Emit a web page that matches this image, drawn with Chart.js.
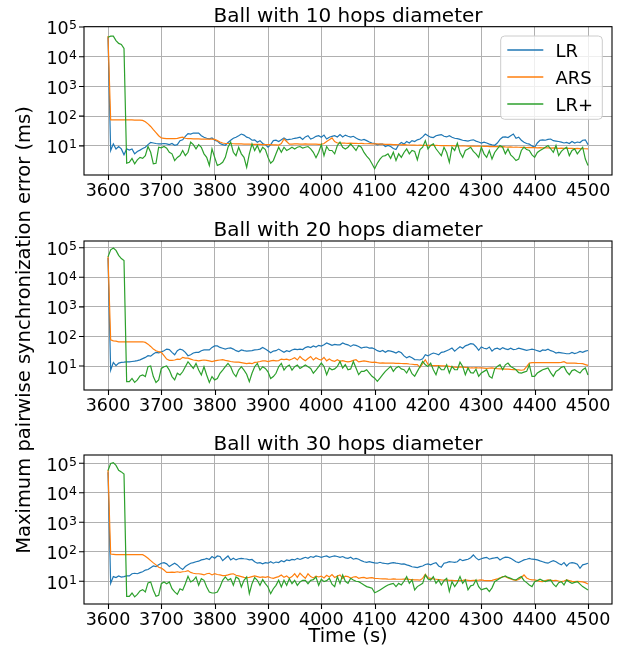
<!DOCTYPE html>
<html><head><meta charset="utf-8">
<script src="https://cdn.jsdelivr.net/npm/chart.js@4"></script>
<style>
html,body{margin:0;padding:0;background:#fff;}
#wrap{position:relative;width:627px;height:652px;overflow:hidden;}
canvas{position:absolute;left:0;top:0;}
</style></head><body>
<div id="wrap">
<canvas id="c1" width="627" height="652"></canvas>
<canvas id="c2" width="627" height="652"></canvas>
<canvas id="c3" width="627" height="652"></canvas>
</div>
<script>
// ---- data ----
const T0 = 3600, DT = 5;           // sampling: 3600 s .. 4500 s every 5 s
const SERIES_NAMES = ['LR', 'ARS', 'LR+'];
const PANEL_TITLES = ['Ball with 10 hops diameter', 'Ball with 20 hops diameter', 'Ball with 30 hops diameter'];
const X_TICKS = [3600, 3700, 3800, 3900, 4000, 4100, 4200, 4300, 4400, 4500];
const Y_TICKS = [1e1, 1e2, 1e3, 1e4, 1e5];
const X_LABEL = 'Time (s)';
const Y_LABEL = 'Maximum pairwise synchronization error (ms)';

const LR_10 = [
45000,7.0,11.7,7.9,9.5,7.9,5.0,7.9,7.2,7.9,5.4,6.5,7.2,8.2,9.0,11,13,12.5,12,11.7,
11.7,12,11.7,11,12,10.5,11,15,16,21,26,25,27,27,27,22,19.6,18,17.2,18.5,
15.5,14.5,12,11,10.5,13,15.5,18,19.6,22,25,23,19.6,18.5,15.5,16,13.3,15,12,11,
9.0,11,15,15.5,14,16,18.5,16,16.5,17,18,18.5,19.6,16.5,20,22,17,18.5,21,22,
19.6,23,17,19.6,21,22,20,24,20,23,21,19.6,21,18.5,16.5,15.5,16.5,15,13.5,12.5,
12,10.8,11.5,11.5,9.5,10.3,9.5,8.2,7.5,11,13,11.5,14,12.5,15,14,16,17,20,25,
22,19.6,19,22,23,24,21,20,22,19.6,18,17.5,16.5,15.5,15,14.5,15.5,16,14.5,13.5,
12.5,13.3,12.5,11.5,10.8,10.5,12.5,16.5,19.6,20,19,22,25,18,19.6,15.5,13.3,12,11.5,10,
9,12.5,15.5,16,15.5,16.5,17,15,14.5,14,13.3,12.5,13,12,14,12.5,13.5,13,15.5,16,
11];
const ARS_10 = [
50000,75,75,75,75,75,75,75,75,75,74,74,74,72,65,55,45,35,28,22,
18.5,18,17.5,17.5,17.5,17.5,18,19,19.6,18,17.5,17.5,17.2,17.2,17.2,17,17,17,17,16.8,
16.5,15,13.5,12.5,12,12,12,11.8,11.7,11.7,11.7,11.5,11.5,11.5,11.3,11.3,11.2,11.2,11,11,
11,11,10.8,10.8,10.6,12,17,14,11.5,11.5,11.7,11.7,11.5,11.5,11.7,11.5,11.5,11.5,11.5,11.3,
11.3,12,14,16,18.5,14,12.5,12.3,12.5,12.3,12.2,12.4,12.1,12.2,12,12.1,11.9,11.8,11.9,11.7,
11.7,11.6,11.5,11.5,11.3,11.2,11.3,11.1,11,10.9,10.8,11,10.8,10.7,10.6,10.6,10.5,10.6,10.4,10.5,
10.4,10.5,10.3,10.4,10.3,10.2,10.3,10.2,10.1,10.2,10,10.1,9.9,10,9.9,9.8,9.9,9.8,9.7,9.8,
9.7,9.6,9.7,9.5,9.6,9.4,9.5,9.3,9.4,9.2,9.1,9.2,9.0,9.1,9.0,8.9,9.0,8.8,8.9,8.7,
8.7,8.6,8.7,8.6,8.5,8.6,8.4,8.5,8.4,8.3,8.4,8.3,8.2,8.3,8.2,8.1,8.2,8.1,8.0,8.0,
7.9];
const LRP_10 = [
45000,49000,49000,35000,28000,26000,19000,2.6,2.8,3.8,2.5,3.4,4.1,3.8,4.7,9.5,6.1,2.5,2.6,9.0,
8.6,9.5,8.4,6.1,5.4,3.2,4.1,4.7,7.0,4.7,6.1,13.3,11,7.9,11,9,5.4,4.1,2.2,7.9,
4.1,2.2,2.4,2.8,4.1,9,13.3,6.1,4.7,9,5.4,4.1,1.9,5.4,11.7,7,10.3,6.1,9,7.5,
4.1,2.6,3.2,5.4,9,6.1,9,7,7.9,9,7.9,9,9.5,8.4,9,9.5,7.9,6.1,4.0,6.1,
11,4.7,9.5,7,7,5.4,10.3,13.3,9,7.9,9,11.7,9,7,10.3,9,6,4.5,3.6,2.5,
1.7,2.6,3.6,4.5,4.7,5.4,3.8,6.1,3.2,5.4,4.1,6,7.9,5.4,7,6.5,3.4,7.5,9,15,
7.9,10.3,11.7,8,6.1,4.7,9,6,2.8,9,7,12.3,6,4.1,7,7.9,9,6.5,5.4,4.1,
9,5.4,4.1,7,3.6,6,7.9,10.3,9,5.4,7.9,5,4.1,3.2,3.6,7,9,7.5,7,5,
4.1,6,7,7.9,9,10.3,8,6.1,10.3,4.7,6.5,7.9,9,4.7,7,7.9,5.4,7,9,3.6,
2.2];

const LR_20 = [
45000,7.3,13.3,10.3,12.6,13.3,13.5,13.8,13.8,14.2,14.6,15.2,16.2,17.8,19.6,22.3,21.5,25.4,29,28,
30,33,37.4,36,29,24,33,37.4,35,29,22.3,24,27.5,29,29,33,35,35,35,42.6,
48,48,42.6,40,37.4,40,41,37.4,33,31,35,33,32,32.5,33,35,35.5,37.4,42.6,37.4,
33,28,32,33,37.4,33,29,33,31,35,37.4,36,37,36,42,45,42,48,44,50,
47,52,60,55,50,54,52,52,60,55,52,46,52,50,46,40.5,43,44,40.5,41,
37.5,33,31,33.5,29,33,32,30,27.5,31,28,22,19,21,19,16.5,16.3,16,17.5,24,
22,25,27.5,26,24,29,30,33,36,40.5,32,38,45,40,48,52,57,55,45,34,
44,40,38,44,32,38,40,36,42,38,36,40,36,37,40,38,36,34,35.5,37,
35.5,33,31,35,34,37,33,31,27.5,29,28,27,26,26,29,26.5,28,31,29,32,
33.5];
const ARS_20 = [
50000,77,71,69,66,66,66,66,66,66,66,66,66,66,63,55,46,37.4,33,30.5,
29,22.3,17.2,15.6,15.6,16,17.2,16.8,19.6,18.5,18.5,17.2,16,15.6,15,15.6,16,15.6,15,14.2,
15,15.6,16,16.4,15.6,15,14.2,13.8,13.5,13.5,13,12.5,12,12.5,12,13.3,13.6,14.2,15,15,
14.2,15,15.6,15,15.3,17.2,16.4,17.2,16,17.2,19,16,21,17.2,15,18,21,16,19,17,
16,19.6,15,17.2,15.2,14.4,16.3,14.4,15.2,14.4,13.8,14.4,15.5,16.3,13.8,14.4,15,14.4,13.8,13.3,
13.5,13,12.6,12.8,12.6,12.6,12.6,12.6,12.3,12.4,12.2,12,12,11.7,11.5,11.1,11.1,9.0,12,16.3,
11.5,10.5,10.3,10.3,10.3,10.2,10.1,10,9.7,9.4,9.2,9,9.4,9.2,9,8.8,8.6,8.6,8.8,8.6,
8.6,8.5,8.4,8.5,8.6,8.3,8.1,8,8,7.9,7.9,7.7,7.6,7.5,7.4,7.2,7.5,9.5,12.6,13,
13,13,13,13,13,13,13,13,13,13,13.3,14,12.6,12.6,12.6,12.6,12.3,12.2,12,11.2,
10.5];
const LRP_20 = [
49000,85000,98000,81000,55000,43000,37000,2.95,2.95,3.8,2.8,3.4,4.6,5,4.4,9.5,10,4.4,2.8,3.4,
8.3,9.5,10,7.3,4.4,3.4,5.7,5,6.4,9.5,14,10.8,8.3,12.3,7.3,5,9.5,5,2.8,4.4,
3.4,3.8,5.7,7.3,9.5,12.3,9.5,5.7,4.4,7.3,9.5,7.3,5.3,2.95,5.7,9.5,12.3,7.3,9.5,8.3,
6.4,3.8,4.4,5.7,9.5,12.3,7.3,9.5,10.8,7.3,9.5,10.8,8.3,9.5,10.8,9.5,8.3,5.7,7.3,9.5,
12.6,9.7,5.1,8.6,7.5,8,9.7,14.3,8.6,11.1,7.5,8,14.3,8.6,5.1,6.6,6.6,7.5,5.8,4.5,
3.9,3.05,3.9,5.1,6.6,8,9.7,6.6,8.6,9.7,8,7.5,5.8,8.6,5.5,4.5,6.6,9.7,14.3,11,
9.7,12.6,7.5,5.1,9.7,7.5,7.5,11.1,5.8,9.7,7.5,7.5,13.5,9.7,5.1,8.6,6,5.8,7.8,4.5,
5.8,6.6,7.5,4.5,3.9,8,9.7,11.1,7.5,11,12.6,9.7,8.6,7.5,6,5.8,6.2,6.6,11.1,4.5,
4.5,5.8,6.6,7.5,8,8.6,6,4.5,6.6,7.5,9,9.7,6.5,5.1,7,7.5,6.5,5.8,7.5,8.6,
5];

const LR_30 = [
50000,8.5,14.4,13.3,15.2,13.8,14.4,15.2,15.2,18,18.7,18,19.6,21,24,25,29,33,31.5,36,
41,43,39,31.5,36,41,36,29,25,31.5,36,41,43,46,48,53,55,60,55,69,
60,72,69,50,60,72,53,60,53,58,60,58,57,53,55,46,41,43,39,43,
41,46,41,45,43,50,46,53,50,55,53,60,55,60,65,60,69,65,72,69,
65,69,72,65,69,72,69,65,69,62,60,65,56,60,56,50,46,44,46,44,
42,41,44,41,40,39,41,43,41,40,38,39,36,34,31,30,29,31.5,33,37,
39,36,40,43,33,30,41,43,46,45,44,46,56,50,53,56,63,78,62,53,
58,62,65,56,60,62,65,53,60,66,65,60,53,46,43,48,53,56,60,56,
55,53,49,46,43,41,46,50,46,40,36,43,33,41,43,41,38,27.6,36,38,
41];
const ARS_30 = [
59000,84,82,80,80,80,80,80,80,80,80,80,80,80,71,60,50,42,36,30,
28,24,20,20,20.5,20,21,20,21,21.5,23,20,18.7,18,18,17.5,16.4,18,18.7,16.4,
18,17,16.4,15.6,15.6,16.4,17.5,18,16,15.2,14.4,13.6,13.2,13.6,14.4,15.2,14.4,13.6,14,13.6,
14.4,13.2,12.6,13.6,14.4,16.4,13.6,15.2,12.6,14.4,18,13.6,18.7,15.2,12.6,18,14.4,13,15,14,
15,13,16,14,17,13.5,15,16.4,12.6,15,14.4,12.6,14,14.4,12.6,13.3,13.5,12.6,13,13.3,
12.6,12.4,12.2,12,12,11.8,11.7,12,11.8,11.7,11.7,11.9,12,11.6,11.4,11.2,11.1,11,12.5,17.3,
13,12.6,12,11.7,11.4,11.1,11,11.1,10.8,10.8,10.6,10.5,10.5,10.7,11.1,10.8,10.5,10.8,10.8,10.9,
11.1,10.8,10.6,10.5,10.8,11.4,12,13,14.4,14.4,13,12,11.1,10.8,11.5,13.5,16.4,13,11.7,11.1,
11.1,10.5,9.9,9.7,10.5,11.1,10.8,10.5,10.8,10.2,9.7,10.2,11.1,10.5,9.9,9.7,9.9,9.7,9.5,9,
8.1];
const LRP_30 = [
57000,98000,105000,85000,58000,51000,43000,3.1,3.1,4.0,2.95,3.6,4.7,5.2,4.35,8.8,9.5,5,3.1,3.35,
8.3,9.5,8.3,9.5,5.6,4.35,3.6,5.6,5,8.3,14.8,9.5,10.8,14,7.3,12.3,10.8,6.4,4.35,4.0,
4.0,4.35,6.4,10.8,14,10.8,12.3,7.3,14,12.3,6.4,10.8,14,3.8,8.3,13.3,10.8,7.3,11.4,8.3,
6.4,3.8,5.6,7.3,10.8,6.4,10.8,7.3,12.3,8.3,10.8,7.3,9.5,10.8,10.8,8.3,10.8,11.4,14,7.3,
11.7,9.7,10.5,12.6,8,6.6,14.4,8.5,16.4,10,8.5,12.6,11.1,10,9.7,8.5,7.5,6.6,6.2,5.8,
4.1,4.5,5.1,5.8,6.6,7.5,8,8.5,6.6,8.5,7.5,10,14.4,8.5,11.1,5.1,6.6,7.5,8.5,16.4,
12,11.1,14.4,8.5,11.1,7.5,10.5,12.6,4.5,9.7,6.6,9,14.4,8.5,11.1,5.1,7,7.5,11.1,6.6,
5.1,5.5,5.8,4.5,6,9.7,11,12.6,14,15.2,13.5,12.6,11.5,11.1,13,14.4,10.5,9,7.5,6.6,
9.7,10.5,11.7,10.5,9.7,10.5,11.1,8,6.6,9,9.7,7.5,11.1,9.5,8.5,9.2,9.7,8,6.6,5.8,
5.1];

const PANEL_DATA = [[LR_10, ARS_10, LRP_10], [LR_20, ARS_20, LRP_20], [LR_30, ARS_30, LRP_30]];

// ---- styling / layout ----
const COLORS = ['#1f77b4', '#ff7f0e', '#2ca02c'];
const FONT = "'DejaVu Sans', 'Liberation Sans', sans-serif";
const W = 627, H = 652;
const PANELS = [
  { top: 26.7, bottom: 175, ymin: Math.pow(10, 0.02), ymax: Math.pow(10, 5.01) },
  { top: 241,  bottom: 390, ymin: Math.pow(10, 0.19), ymax: Math.pow(10, 5.226) },
  { top: 455,  bottom: 604, ymin: Math.pow(10, 0.23), ymax: Math.pow(10, 5.28) }
];
const AREA_LEFT = 84, AREA_RIGHT = 612;
const YAX_W = 10, XAX_H = 30;

const toPoints = arr => arr.map((v, i) => ({ x: T0 + i * DT, y: v }));

const decor = {
  id: 'decor',
  afterDraw(chart, args, o) {
    const ctx = chart.ctx, a = chart.chartArea, xs = chart.scales.x, ys = chart.scales.y;
    ctx.save();
    // ticks
    ctx.strokeStyle = '#000'; ctx.lineWidth = 1.1;
    ctx.beginPath();
    X_TICKS.forEach(v => { const px = Math.round(xs.getPixelForValue(v)) + 0.5; ctx.moveTo(px, a.bottom); ctx.lineTo(px, a.bottom + 5); });
    const yt = Y_TICKS.filter(v => v >= ys.min && v <= ys.max * 1.0001);
    yt.forEach(v => { const py = ys.getPixelForValue(v); ctx.moveTo(a.left - 5, py); ctx.lineTo(a.left, py); });
    ctx.stroke();
    // spines
    ctx.lineWidth = 1.1;
    ctx.strokeRect(a.left, a.top, a.right - a.left, a.bottom - a.top);
    // x tick labels
    ctx.fillStyle = '#000';
    ctx.font = `17.5px ${FONT}`; ctx.textAlign = 'center'; ctx.textBaseline = 'alphabetic';
    X_TICKS.forEach(v => ctx.fillText(String(v), xs.getPixelForValue(v), a.bottom + 20.5));
    // y tick labels as 10^n
    yt.forEach(v => {
      const py = ys.getPixelForValue(v);
      const e = String(Math.round(Math.log10(v)));
      ctx.font = `12.5px ${FONT}`; ctx.textAlign = 'left';
      const ew = ctx.measureText(e).width;
      const rx = a.left - 7;
      ctx.fillText(e, rx - ew, py + 2.4);
      ctx.font = `17.5px ${FONT}`; ctx.textAlign = 'right';
      ctx.fillText('10', rx - ew - 0.3, py + 7.5);
    });
    // title
    ctx.font = `20px ${FONT}`; ctx.textAlign = 'center';
    ctx.fillText(o.title, (a.left + a.right) / 2, a.top - 5);
    // legend
    if (o.legend) {
      const bw = 101.6, bh = 83.3;
      const bx = a.right - 9.7 - bw, by = a.top + 9.3;
      ctx.beginPath();
      ctx.roundRect(bx, by, bw, bh, 4);
      ctx.fillStyle = 'rgba(255,255,255,0.8)'; ctx.fill();
      ctx.strokeStyle = '#cccccc'; ctx.lineWidth = 1; ctx.stroke();
      ctx.font = `18px ${FONT}`; ctx.textAlign = 'left'; ctx.textBaseline = 'alphabetic';
      chart.data.datasets.forEach((ds, i) => {
        const y = by + 14 + i * 27;
        ctx.strokeStyle = ds.borderColor; ctx.lineWidth = 1.3;
        ctx.beginPath(); ctx.moveTo(bx + 6.6, y); ctx.lineTo(bx + 42.6, y); ctx.stroke();
        ctx.fillStyle = '#000';
        ctx.fillText(ds.label, bx + 54.8, y + 6.6);
      });
    }
    // figure-level axis labels
    if (o.axisLabels) {
      ctx.fillStyle = '#000';
      ctx.font = `19.5px ${FONT}`; ctx.textAlign = 'center'; ctx.textBaseline = 'alphabetic';
      ctx.fillText(X_LABEL, (a.left + a.right) / 2, 642);
      ctx.save();
      ctx.translate(30, 330);
      ctx.rotate(-Math.PI / 2);
      ctx.fillText(Y_LABEL, 0, 0);
      ctx.restore();
    }
    ctx.restore();
  }
};

PANELS.forEach((p, k) => {
  const datasets = PANEL_DATA[k].map((arr, i) => ({
    label: SERIES_NAMES[i],
    data: toPoints(arr),
    borderColor: COLORS[i],
    backgroundColor: COLORS[i],
    borderWidth: 1.2,
    pointRadius: 0,
    tension: 0,
    fill: false,
    order: 3 - i
  }));
  new Chart(document.getElementById('c' + (k + 1)), {
    type: 'line',
    data: { datasets },
    options: {
      responsive: false,
      animation: false,
      devicePixelRatio: 1,
      events: [],
      layout: { padding: { left: AREA_LEFT - YAX_W, right: W - AREA_RIGHT, top: p.top, bottom: H - p.bottom - XAX_H } },
      plugins: {
        legend: { display: false },
        tooltip: { enabled: false },
        title: { display: false },
        decor: { title: PANEL_TITLES[k], legend: k === 0, axisLabels: k === 2 }
      },
      scales: {
        x: {
          type: 'linear', min: 3555, max: 4545,
          afterBuildTicks: s => { s.ticks = X_TICKS.map(v => ({ value: v })); },
          afterFit: s => { s.height = XAX_H; },
          grid: { color: '#b0b0b0', lineWidth: 1, drawTicks: false },
          border: { display: false },
          ticks: { display: false }
        },
        y: {
          type: 'logarithmic', min: p.ymin, max: p.ymax,
          afterBuildTicks: s => { s.ticks = Y_TICKS.filter(v => v >= s.min && v <= s.max * 1.0001).map(v => ({ value: v })); },
          afterFit: s => { s.width = YAX_W; },
          grid: { color: '#b0b0b0', lineWidth: 1, drawTicks: false },
          border: { display: false },
          ticks: { display: false }
        }
      }
    },
    plugins: [decor]
  });
});
</script>
</body></html>
